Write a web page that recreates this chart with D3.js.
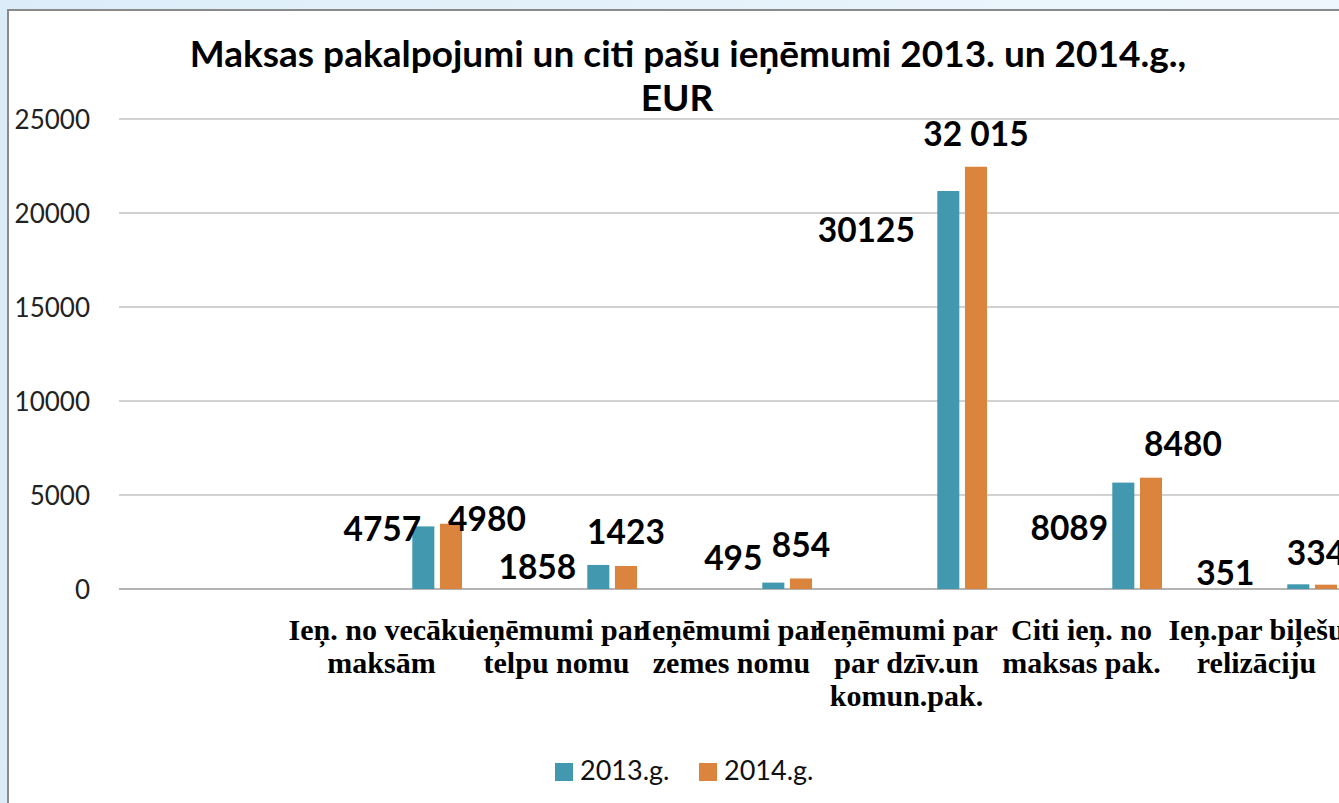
<!DOCTYPE html>
<html>
<head>
<meta charset="utf-8">
<script src="https://cdn.jsdelivr.net/npm/d3@7"></script>
<style>
  html, body { margin: 0; padding: 0; background: #ffffff; overflow: hidden; }
  svg { display: block; }
</style>
</head>
<body>
<svg id="chart" width="1339" height="803"></svg>
<script>
// ---------- data ----------
const categories = [
  "",
  "Ieņ. no vecāku\nmaksām",
  "ieņēmumi par\ntelpu nomu",
  "Ieņēmumi par\nzemes nomu",
  "Ieņēmumi par\npar dzīv.un\nkomun.pak.",
  "Citi ieņ. no\nmaksas pak.",
  "Ieņ.par biļešu\nrelizāciju"
];
const seriesNames = ["2013.g.", "2014.g."];
const values2013 = [null, 3330, 1280, 340, 21170, 5660, 250];
const values2014 = [null, 3470, 1225, 560, 22460, 5920, 230];
const labels2013 = ["", "4757", "1858", "495", "30125", "8089", "351"];
const labels2014 = ["", "4980", "1423", "854", "32 015", "8480", "334"];
const yTicks = [0, 5000, 10000, 15000, 20000, 25000];

// manual data-label nudges (px): [dx from bar centre, dy from bar top to baseline]
const nudge2013 = [[0,0], [-41,15], [-61,14], [-40,-13], [-82,51], [-54,57], [-73,1]];
const nudge2014 = [[0,0], [36,7], [0,-22], [0,-21], [0,-21], [32,-22], [-10,-20]];

// ---------- layout ----------
const colors = ["#4198af", "#db843d"];
const svg = d3.select("#chart");

const defs = svg.append("defs");
const grad = defs.append("linearGradient").attr("id", "bg").attr("x1", "0").attr("y1", "0").attr("x2", "1").attr("y2", "0");
grad.append("stop").attr("offset", "0").attr("stop-color", "#dcedf9");
grad.append("stop").attr("offset", "1").attr("stop-color", "#eef7fd");
svg.append("rect").attr("width", 1339).attr("height", 803).attr("fill", "url(#bg)");

// chart area
svg.append("rect").attr("x", 8).attr("y", 10).attr("width", 1400).attr("height", 900)
  .attr("fill", "#ffffff").attr("stroke", "#8a8a8a").attr("stroke-width", 2);

const x = d3.scaleBand().domain(categories).range([119, 1344]).padding(0);
const y = d3.scaleLinear().domain([0, 25000]).range([589, 119]);
const bw = x.bandwidth();
const barOffset = bw * 0.676, slot = bw * 0.158, barW = bw * 0.126;

// gridlines
svg.append("g").selectAll("line").data(yTicks).join("line")
  .attr("x1", 119).attr("x2", 1339)
  .attr("y1", d => y(d)).attr("y2", d => y(d))
  .attr("stroke", d => d === 0 ? "#9a9a9a" : "#a6a6a6").attr("stroke-width", d => d === 0 ? 1.5 : 1.2);

// y axis via d3 axis (no domain line, labels only)
const yAxis = svg.append("g").attr("transform", "translate(90,0)")
  .call(d3.axisLeft(y).tickValues(yTicks).tickSize(0).tickPadding(0).tickFormat(d3.format("d")));
yAxis.select(".domain").remove();
yAxis.selectAll("text").attr("font-family", "Lato, 'Open Sans', sans-serif")
  .attr("font-size", 26).attr("fill", "#222").attr("dy", "0.35em");

// bars
const series = [values2013, values2014];
const labelSets = [labels2013, labels2014];
const nudges = [nudge2013, nudge2014];
series.forEach((vals, si) => {
  const g = svg.append("g");
  g.selectAll("rect").data(categories.map((c, i) => ({c, v: vals[i]})).filter(d => d.v != null)).join("rect")
    .attr("x", d => x(d.c) + barOffset + si * slot)
    .attr("width", barW)
    .attr("y", d => y(d.v))
    .attr("height", d => y(0) - y(d.v))
    .attr("fill", colors[si]);
});

// data labels
series.forEach((vals, si) => {
  const g = svg.append("g");
  g.selectAll("text").data(categories.map((c, i) => ({c, v: vals[i], t: labelSets[si][i], n: nudges[si][i]})).filter(d => d.v != null)).join("text")
    .attr("x", d => x(d.c) + barOffset + si * slot + barW / 2 + d.n[0])
    .attr("y", d => y(d.v) + d.n[1])
    .attr("text-anchor", "middle")
    .attr("font-family", "Lato, sans-serif").attr("font-weight", 700)
    .attr("font-size", 33.5).attr("fill", "#000")
    .text(d => d.t);
});

// category labels
const catG = svg.append("g");
categories.forEach(c => {
  if (!c) return;
  const lines = c.split("\n");
  const t = catG.append("text")
    .attr("x", x(c) + bw / 2).attr("y", 640)
    .attr("text-anchor", "middle")
    .attr("font-family", "'Liberation Serif', 'Times New Roman', serif")
    .attr("font-weight", 700).attr("font-size", 30).attr("fill", "#000");
  lines.forEach((l, i) => t.append("tspan").attr("x", x(c) + bw / 2).attr("dy", i === 0 ? 0 : 33).text(l));
});

// title
svg.append("text").attr("x", 688).attr("y", 67).attr("text-anchor", "middle")
  .attr("font-family", "Lato, sans-serif").attr("font-weight", 700).attr("font-size", 37).attr("fill", "#000")
  .text("Maksas pakalpojumi un citi pašu ieņēmumi 2013. un 2014.g.,");
svg.append("text").attr("x", 677).attr("y", 111).attr("text-anchor", "middle")
  .attr("font-family", "Lato, sans-serif").attr("font-weight", 700).attr("font-size", 37).attr("fill", "#000")
  .text("EUR");

// legend
const legX = [555, 699];
const leg = svg.append("g");
seriesNames.forEach((n, i) => {
  leg.append("rect").attr("x", legX[i]).attr("y", 763).attr("width", 18).attr("height", 18).attr("fill", colors[i]);
  leg.append("text").attr("x", legX[i] + 25).attr("y", 780)
    .attr("font-family", "Lato, sans-serif").attr("font-size", 27).attr("fill", "#111").text(n);
});
</script>
</body>
</html>
